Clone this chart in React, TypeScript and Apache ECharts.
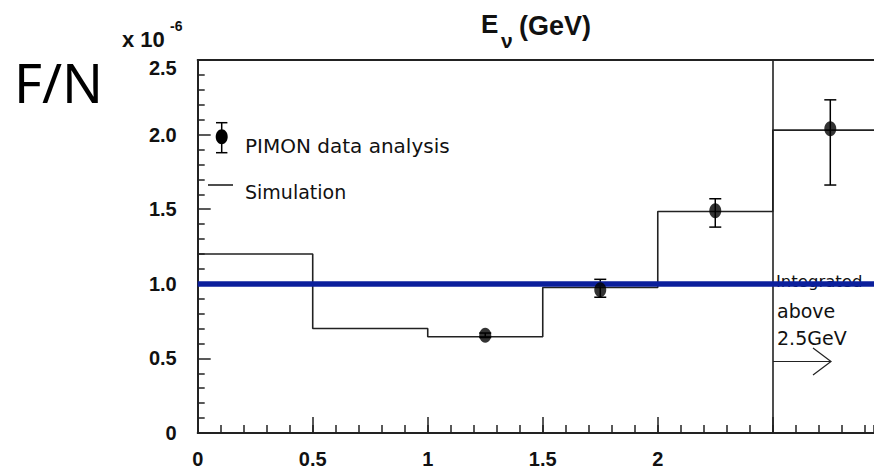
import React, { useEffect, useRef } from "react";
import * as echarts from "echarts";

// Bin edges (GeV) and simulated F/N per bin (x 10^-6)
const binEdges = [0, 0.5, 1.0, 1.5, 2.0, 2.5, 3.0];
const simValues = [1.2, 0.7, 0.645, 0.975, 1.485, 2.03];

// PIMON data analysis points
const dataX = [1.25, 1.75, 2.25, 2.75];
const dataY = [0.655, 0.96, 1.49, 2.04];
const dataLow = [0.64, 0.91, 1.38, 1.662];
const dataHigh = [0.67, 1.03, 1.57, 2.233];

// Reference level (blue line)
const refLevel = [1.0];
// Boundary of the integrated bin
const integratedFrom = [2.5];

const xTickLabels = ["0", "0.5", "1", "1.5", "2", "", ""];
const yTickLabels = ["0", "0.5", "1.0", "1.5", "2.0", "2.5"];

// visible x range (the picture is cut at the right)
const xMin = 0;
const xMax = 2.94;

const AX = "'Liberation Sans', Arial, sans-serif";
const LT = "'DejaVu Sans', sans-serif";

export default function App() {
  const ref = useRef<HTMLDivElement>(null);
  useEffect(() => {
    if (!ref.current) return;
    const chart = echarts.init(ref.current, undefined, { renderer: "svg" });

    const stepData: number[][] = simValues.map((v, i) => [binEdges[i], v]);
    stepData.push([binEdges[binEdges.length - 1], simValues[simValues.length - 1]]);

    const errData = dataX.map((x, i) => [x, dataLow[i], dataHigh[i]]);

    chart.setOption({
      animation: false,
      backgroundColor: "#ffffff",
      grid: {
        left: 197.7,
        top: 60,
        right: 0,
        bottom: 34,
      },
      xAxis: [
        {
          type: "value",
          min: xMin,
          max: xMax,
          interval: 0.5,
          position: "bottom",
          axisLine: { show: true, onZero: false, lineStyle: { color: "#222", width: 2 } },
          axisTick: { show: true, inside: true, length: 16, lineStyle: { color: "#222", width: 1.5 } },
          splitLine: { show: false },
          axisLabel: {
            margin: 16,
            fontFamily: AX,
            fontWeight: "bold",
            fontSize: 20,
            color: "#111",
            showMaxLabel: false,
            formatter: (v: number) => {
              const i = Math.round(v / 0.5);
              return xTickLabels[i] ?? "";
            },
          },
        },
        {
          type: "value",
          min: xMin,
          max: xMax,
          interval: 0.1,
          position: "bottom",
          axisLine: { show: false, onZero: false },
          axisTick: { show: true, inside: true, length: 8, lineStyle: { color: "#222", width: 1.5 } },
          splitLine: { show: false },
          axisLabel: { show: false },
        },
        {
          type: "value",
          min: xMin,
          max: xMax,
          position: "top",
          axisLine: { show: true, onZero: false, lineStyle: { color: "#222", width: 2 } },
          axisTick: { show: false },
          splitLine: { show: false },
          axisLabel: { show: false },
        },
      ],
      yAxis: {
        type: "value",
        min: 0,
        max: 2.5,
        interval: 0.5,
        axisLine: { show: true, onZero: false, lineStyle: { color: "#222", width: 2 } },
        axisTick: { show: true, inside: true, length: 13, lineStyle: { color: "#222", width: 1.5 } },
        minorTick: { show: true, splitNumber: 5, length: 7, lineStyle: { color: "#222", width: 1.5 } },
        splitLine: { show: false },
        axisLabel: {
          margin: 21,
          fontFamily: AX,
          fontWeight: "bold",
          fontSize: 20,
          color: "#111",
          formatter: (v: number) => {
            const i = Math.round(v / 0.5);
            const t = yTickLabels[i] ?? "";
            return i === 5 ? "{top|" + t + "}" : t;
          },
          rich: {
            top: { fontFamily: AX, fontWeight: "bold", fontSize: 20, color: "#111", padding: [16, 0, 0, 0] },
          },
        },
      },
      series: [
        {
          name: "Simulation",
          type: "line",
          step: "end",
          data: stepData,
          symbol: "none",
          lineStyle: { color: "#222", width: 1.6 },
          z: 3,
          markLine: {
            silent: true,
            symbol: ["none", "none"],
            label: { show: false },
            lineStyle: { color: "#222", width: 1.6, type: "solid" },
            data: integratedFrom.map((x) => ({ xAxis: x })),
          },
        },
        {
          name: "Reference",
          type: "line",
          data: [],
          z: 6,
          markLine: {
            silent: true,
            symbol: ["none", "none"],
            label: { show: false },
            lineStyle: { color: "#0b1f9c", width: 5.5, type: "solid" },
            data: refLevel.map((y) => ({ yAxis: y })),
          },
        },
        {
          name: "errors",
          type: "custom",
          z: 4,
          data: errData,
          renderItem: (params: any, api: any) => {
            const x = api.value(0);
            const lo = api.coord([x, api.value(1)]);
            const hi = api.coord([x, api.value(2)]);
            const st = { stroke: "#000", lineWidth: 1.5 };
            return {
              type: "group",
              children: [
                { type: "line", shape: { x1: lo[0], y1: lo[1], x2: hi[0], y2: hi[1] }, style: st },
                { type: "line", shape: { x1: lo[0] - 6, y1: lo[1], x2: lo[0] + 6, y2: lo[1] }, style: st },
                { type: "line", shape: { x1: hi[0] - 6, y1: hi[1], x2: hi[0] + 6, y2: hi[1] }, style: st },
              ],
            };
          },
        },
        {
          name: "PIMON data analysis",
          type: "scatter",
          z: 5,
          data: dataX.map((x, i) => [x, dataY[i]]),
          symbol: "circle",
          symbolSize: [12, 15],
          itemStyle: { color: "#000" },
        },
      ],
      graphic: [
        {
          type: "text",
          z: 0,
          left: 14,
          top: 55,
          style: { text: "F/N", fontFamily: "'Noto Sans', sans-serif", fontSize: 54, fill: "#000" },
        },
        {
          type: "text",
          z: 0,
          x: 122,
          y: 39,
          style: { text: "x 10", fontFamily: AX, fontWeight: "bold", fontSize: 22, fill: "#111", verticalAlign: "middle" },
        },
        {
          type: "text",
          z: 0,
          x: 170,
          y: 26,
          style: { text: "-6", fontFamily: AX, fontWeight: "bold", fontSize: 14, fill: "#111", verticalAlign: "middle" },
        },
        {
          type: "text",
          z: 0,
          x: 481,
          y: 24,
          style: { text: "E", fontFamily: AX, fontWeight: "bold", fontSize: 26, fill: "#111", verticalAlign: "middle" },
        },
        {
          type: "text",
          z: 0,
          x: 501,
          y: 40,
          style: { text: "ν", fontFamily: AX, fontWeight: "bold", fontSize: 21, fill: "#111", verticalAlign: "middle" },
        },
        {
          type: "text",
          z: 0,
          x: 519,
          y: 26,
          style: { text: "(GeV)", fontFamily: AX, fontWeight: "bold", fontSize: 27, fill: "#111", verticalAlign: "middle" },
        },
        // legend
        { type: "line", z: 0, shape: { x1: 221.7, y1: 122.7, x2: 221.7, y2: 152.7 }, style: { stroke: "#000", lineWidth: 1.5 } },
        { type: "line", z: 0, shape: { x1: 216, y1: 122.7, x2: 227.4, y2: 122.7 }, style: { stroke: "#000", lineWidth: 1.5 } },
        { type: "line", z: 0, shape: { x1: 216, y1: 152.7, x2: 227.4, y2: 152.7 }, style: { stroke: "#000", lineWidth: 1.5 } },
        { type: "ellipse", z: 0, shape: { cx: 221.7, cy: 136.7, rx: 6, ry: 7.5 }, style: { fill: "#000" } },
        {
          type: "text",
          z: 0,
          x: 245,
          y: 146,
          style: { text: "PIMON data analysis", fontFamily: LT, fontSize: 20, fill: "#111", verticalAlign: "middle" },
        },
        { type: "line", z: 0, shape: { x1: 208, y1: 185, x2: 233, y2: 185 }, style: { stroke: "#222", lineWidth: 1.6 } },
        {
          type: "text",
          z: 0,
          x: 245,
          y: 192,
          style: { text: "Simulation", fontFamily: LT, fontSize: 19, fill: "#111", verticalAlign: "middle" },
        },
        // integrated annotation
        {
          type: "text",
          z: 0,
          x: 776,
          y: 281,
          style: { text: "Integrated", fontFamily: LT, fontSize: 16.5, fill: "#111", verticalAlign: "middle" },
        },
        {
          type: "text",
          z: 0,
          x: 777,
          y: 311,
          style: { text: "above", fontFamily: LT, fontSize: 19, fill: "#111", verticalAlign: "middle" },
        },
        {
          type: "text",
          z: 0,
          x: 777,
          y: 338,
          style: { text: "2.5GeV", fontFamily: LT, fontSize: 19, fill: "#111", verticalAlign: "middle" },
        },
        { type: "line", z: 0, shape: { x1: 773, y1: 361.5, x2: 831, y2: 361.5 }, style: { stroke: "#222", lineWidth: 1.2 } },
        {
          type: "polyline",
          z: 0,
          shape: { points: [[813, 348], [831, 361.5], [813, 375]] },
          style: { stroke: "#222", lineWidth: 1.2, fill: "none" },
        },
      ],
    });
    return () => chart.dispose();
  }, []);
  return <div ref={ref} style={{ width: 874, height: 469, position: "absolute", left: 0, top: 0 }} />;
}
